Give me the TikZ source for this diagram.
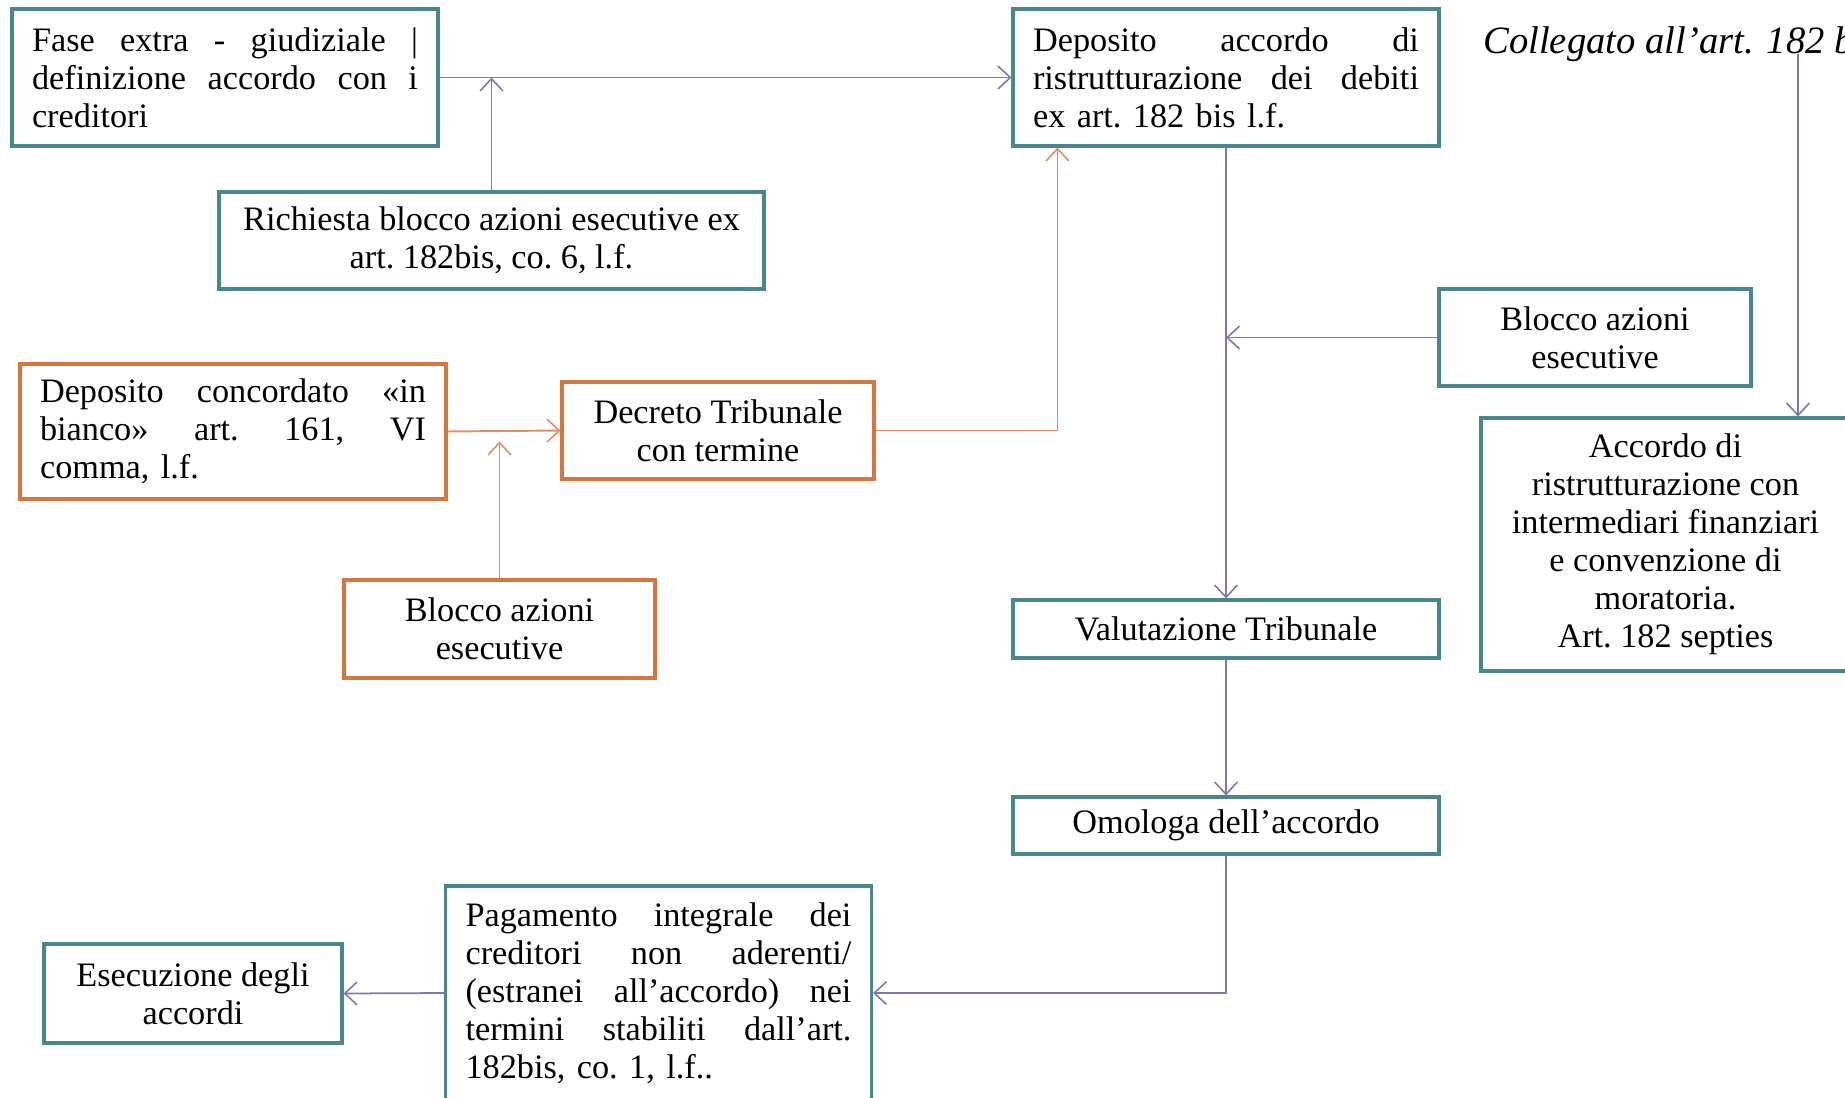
\documentclass[tikz,border=0pt]{standalone}
\usepackage{fontspec}
\setmainfont{Liberation Serif}
\usetikzlibrary{arrows.meta, positioning}

\definecolor{tealc}{RGB}{75,135,138}
\definecolor{orangec}{RGB}{214,118,62}
\definecolor{orangeln}{RGB}{228,140,96}
\definecolor{purpleln}{RGB}{122,122,176}

% one justified line of a box
\newcommand{\jl}[1]{\makebox[7.72cm][s]{\spaceskip=0.25em plus 1fil\relax #1}}

\begin{document}
\begin{tikzpicture}[x=0.02cm, y=-0.02cm,
    font=\fontsize{19.5}{21.6}\selectfont\frenchspacing,
    >={Straight Barb[length=7pt, width=13pt, line width=0.9pt]},
    box/.style={rectangle, draw, line width=1.8pt, fill=white, inner xsep=0.4cm, inner ysep=0pt, align=center},
    tealbox/.style={box, draw=tealc},
    orangebox/.style={box, draw=orangec},
    justbox/.style={text width=7.72cm, align=left, minimum height=2.74cm},
    link/.style={->, draw=purpleln, line width=1pt},
    olink/.style={->, draw=orangeln, line width=1.1pt}]
    \useasboundingbox (0,0) rectangle (1845,1098);
    \clip (0,0) rectangle (1845,1098);

    % upper part
    \node [tealbox, justbox] (fase) at (225,77.5) {\jl{Fase extra - giudiziale |}\\ \jl{definizione accordo con i}\\ creditori};
    \node [tealbox, justbox] (depacc) at (1226,77.5) {\jl{Deposito accordo di}\\ \jl{ristrutturazione dei debiti}\\ ex art. 182 bis l.f.};
    \node [tealbox, minimum width=10.9cm, minimum height=1.94cm] (richiesta) at (491.5,240.5) {Richiesta blocco azioni esecutive ex\\ art. 182bis, co. 6, l.f.};
    \node [anchor=west, inner sep=0pt, font=\fontsize{22}{24}\selectfont\itshape] (colleg) at (1483,44) {Collegato all’art. 182 bis};
    \coordinate (cstart) at (1798,54);

    % concordato in bianco
    \node [orangebox, justbox, minimum height=2.7cm] (depconc) at (233,431.5) {\jl{Deposito concordato «in}\\ \jl{bianco» art. 161, VI}\\ comma, l.f.};
    \node [orangebox, minimum width=6.24cm, minimum height=1.94cm] (decreto) at (718,430.5) {Decreto Tribunale\\ con termine};
    \node [orangebox, minimum width=6.22cm, minimum height=1.96cm] (bloccoL) at (499.5,629) {Blocco azioni\\ esecutive};

    % right column
    \node [tealbox, minimum width=6.24cm, minimum height=1.94cm] (bloccoR) at (1595,337.5) {Blocco azioni\\ esecutive};
    \node [tealbox, minimum width=7.38cm, minimum height=5.06cm] (accordo) at (1665.5,544.5) {Accordo di\\ ristrutturazione con\\ intermediari finanziari\\ e convenzione di\\ moratoria.\\ Art. 182 septies};
    \node [tealbox, minimum width=8.52cm, minimum height=1.16cm] (valutazione) at (1226,629) {Valutazione Tribunale};
    \node [tealbox, minimum width=8.52cm, minimum height=1.14cm] (omologa) at (1226,825.5) {Omologa dell’accordo};

    % bottom row
    \node [tealbox, justbox, minimum height=4.28cm] (pagamento) at (658.5,993) {\jl{Pagamento integrale dei}\\ \jl{creditori non aderenti/}\\ \jl{(estranei all’accordo) nei}\\ \jl{termini stabiliti dall’art.}\\ 182bis, co. 1, l.f..};
    \node [tealbox, minimum width=5.96cm, minimum height=1.98cm] (esecuzione) at (193,993.5) {Esecuzione degli\\ accordi};

    \draw[link] (fase.east) -- (depacc.west);
    \draw[link] (richiesta.north) -- (richiesta.north |- fase.east);
    \draw[olink] (depconc.east) -- (decreto.west);
    \draw[olink, shorten >=0.22cm] (bloccoL.north) -- (bloccoL.north |- decreto.west);
    \draw[olink] (decreto.east) -| ([xshift=0.92cm]depacc.south west);
    \draw[link] (depacc.south) -- (valutazione.north);
    \draw[link] (bloccoR.west) -- (bloccoR.west -| depacc.south);
    \draw[link] (cstart) -- (cstart |- accordo.north);
    \draw[link] (valutazione.south) -- (omologa.north);
    \draw[link] (omologa.south) |- (pagamento.east);
    \draw[link] (pagamento.west) -- (esecuzione.east);
\end{tikzpicture}
\end{document}
